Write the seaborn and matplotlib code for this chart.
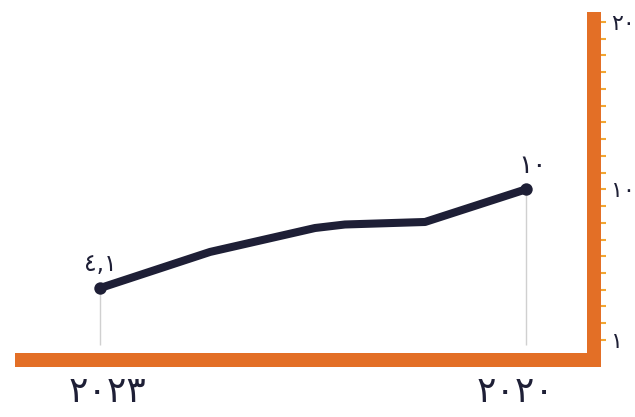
import matplotlib
matplotlib.use("Agg")
import matplotlib.pyplot as plt
import seaborn as sns
import pandas as pd

# Series (decimal year, value)
years = [2023.055, 2022.246, 2021.474, 2021.254, 2020.665, 2019.923]
values = [4.1, 6.26, 7.69, 7.9, 8.05, 10.0]

# Labelled end points
end_labels = ["٤,١", "١٠"]

# Axis ticks
x_ticks = [2023, 2020]
x_tick_labels = ["٢٠٢٣", "٢٠٢٠"]
y_ticks = [1, 10, 20]
y_tick_labels = ["١", "١٠", "٢٠"]
y_minor_ticks = list(range(1, 21))

NAVY = "#1e1f36"
ORANGE = "#e36f26"
AMBER = "#f2a632"

sns.set_theme(style="white")
plt.rcParams["font.family"] = ["DejaVu Sans"]

df = pd.DataFrame({"year": years, "value": values})

fig = plt.figure(figsize=(6.35, 4.17), dpi=100)
W, H = 635, 417
x0, x1, ytop, ybot = 22, 593.5, 19, 359.7
ax = fig.add_axes([x0 / W, (H - ybot) / H, (x1 - x0) / W, (ybot - ytop) / H])

# drop lines under the end points
ends = df.iloc[[0, -1]]
ax.vlines(ends["year"], 0.7, ends["value"], color="#d0d0d0", lw=1, zorder=1)

sns.lineplot(data=df, x="year", y="value", ax=ax, color=NAVY, lw=5.8,
             sort=False, zorder=3)
for ln in ax.lines:
    ln.set_solid_joinstyle("round")
    ln.set_solid_capstyle("round")
sns.scatterplot(data=ends, x="year", y="value", ax=ax, color=NAVY, s=80,
                edgecolor=NAVY, linewidth=0, zorder=4)

# value labels
ax.annotate(end_labels[0], (ends["year"].iloc[0], ends["value"].iloc[0]),
            xytext=(0, 17), textcoords="offset points", ha="center", va="center",
            fontsize=17, color=NAVY)
ax.annotate(end_labels[1], (ends["year"].iloc[1], ends["value"].iloc[1]),
            xytext=(5, 17), textcoords="offset points", ha="center", va="center",
            fontsize=19, color=NAVY)

ax.set_xlim(2023.629, 2019.426)
ax.set_ylim(-0.18, 20.18)

for side in ["top", "left"]:
    ax.spines[side].set_visible(False)
for side in ["right", "bottom"]:
    sp = ax.spines[side]
    sp.set_visible(True)
    sp.set_color(ORANGE)
    sp.set_linewidth(10.08)
    sp.set_capstyle("projecting")
    sp.set_zorder(5)

ax.yaxis.tick_right()
ax.set_yticks(y_ticks)
ax.set_yticklabels(y_tick_labels)
ax.set_yticks(y_minor_ticks, minor=True)
ax.tick_params(axis="y", which="both", length=8.6, width=1.5, color=AMBER,
               pad=4, labelsize=16, labelcolor=NAVY, right=True, left=False)

ax.set_xticks(x_ticks)
ax.set_xticklabels(x_tick_labels)
ax.tick_params(axis="x", which="both", length=0, pad=11, labelsize=26,
               labelcolor=NAVY)

ax.set_xlabel("")
ax.set_ylabel("")
ax.grid(False)

fig.savefig("out.png", dpi=100)
